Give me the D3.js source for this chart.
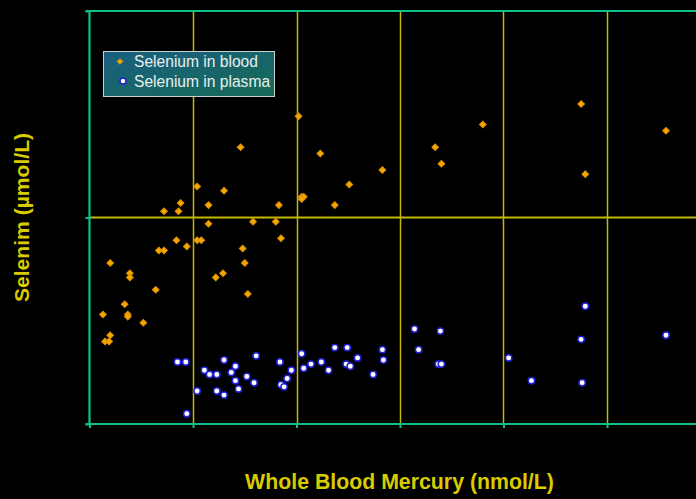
<!DOCTYPE html>
<html><head><meta charset="utf-8">
<script src="https://cdn.jsdelivr.net/npm/d3@7"></script>
<style>html,body{margin:0;padding:0;background:#000;}svg{display:block;}</style>
</head><body>
<svg id="chart" width="696" height="499"></svg>
<script>
// Whole blood mercury (nmol/L) vs selenium (µmol/L)
const bloodX = [1.3,1.5,1.9,2.0,2.0,3.4,3.7,3.7,3.9,3.9,5.2,6.4,6.7,7.2,7.2,8.4,8.6,8.8,9.4,10.4,10.4,10.8,11.5,11.5,12.2,12.9,13.0,14.6,14.8,15.0,15.3,15.8,18.0,18.3,18.5,20.2,20.5,20.7,20.5,22.3,23.7,25.1,28.3,33.4,34.0,38.0,47.5,47.9,55.7];
const bloodY = [0.53,0.40,0.40,0.43,0.78,0.58,0.53,0.52,0.73,0.71,0.49,0.65,0.84,0.84,1.03,0.89,1.03,1.07,0.86,1.15,0.89,0.89,1.06,0.97,0.71,0.73,1.13,1.34,0.85,0.78,0.63,0.98,0.98,1.06,0.90,1.49,1.10,1.10,1.09,1.31,1.06,1.16,1.23,1.34,1.26,1.45,1.55,1.21,1.42];

const plasmaX = [8.5,9.3,9.4,10.4,11.1,11.6,12.3,12.3,13.0,13.0,13.7,14.1,14.1,14.4,15.2,15.9,16.1,18.4,18.5,18.8,19.1,19.5,20.5,20.7,21.4,22.4,23.1,23.7,24.8,24.9,25.2,25.9,27.4,28.3,28.4,31.4,31.8,33.9,33.7,34.0,40.5,42.7,47.9,47.5,47.6,55.7];
const plasmaY = [0.30,0.30,0.05,0.16,0.26,0.24,0.24,0.16,0.31,0.14,0.25,0.28,0.21,0.17,0.23,0.20,0.33,0.30,0.19,0.18,0.22,0.26,0.34,0.27,0.29,0.30,0.26,0.37,0.29,0.37,0.28,0.32,0.24,0.36,0.31,0.46,0.36,0.45,0.29,0.29,0.32,0.21,0.57,0.41,0.20,0.43];

const xTicks = [0,10,20,30,40,50,60];
const yTicks = [0,1,2];
const seriesNames = ["Selenium in blood","Selenium in plasma"];

const svg = d3.select("#chart");
const x = d3.scaleLinear().domain([0,60]).range([89.5, 89.5+103.5*6]);
const y = d3.scaleLinear().domain([0,2]).range([424, 11]);

const green = "#10c08c", grid = "#c4b800", yellow = "#d8cc00";

// gridlines
svg.append("g").selectAll("line").data(xTicks.filter(d=>d>0)).join("line")
  .attr("x1",d=>Math.round(x(d))+0.5).attr("x2",d=>Math.round(x(d))+0.5)
  .attr("y1",y(2)).attr("y2",y(0)).attr("stroke",grid).attr("stroke-width",1.5);
svg.append("g").selectAll("line").data([1]).join("line")
  .attr("x1",x(0)).attr("x2",696).attr("y1",d=>y(d)).attr("y2",d=>y(d))
  .attr("stroke",grid).attr("stroke-width",1.8);

// axes
const xAxis = d3.axisBottom(x).tickValues(xTicks).tickSize(4).tickFormat("");
const gx = svg.append("g").attr("transform",`translate(0,${y(0)})`).call(xAxis);
const yAxis = d3.axisLeft(y).tickValues(yTicks).tickSize(4).tickFormat("");
const gy = svg.append("g").attr("transform",`translate(${x(0)},0)`).call(yAxis);
[gx,gy].forEach(g=>{
  g.select(".domain").remove();
  g.selectAll(".tick line").attr("stroke",green).attr("stroke-width",2);
});
svg.append("line").attr("x1",x(0)-4).attr("x2",696).attr("y1",y(0)).attr("y2",y(0)).attr("stroke",green).attr("stroke-width",2.2);
svg.append("line").attr("x1",x(0)).attr("x2",x(0)).attr("y1",y(2)).attr("y2",y(0)).attr("stroke",green).attr("stroke-width",2.2);
svg.append("line").attr("x1",x(0)-4).attr("x2",696).attr("y1",y(2)).attr("y2",y(2)).attr("stroke",green).attr("stroke-width",2.2);

// points
const blood = bloodX.map((v,i)=>({x:v,y:bloodY[i]}));
const plasma = plasmaX.map((v,i)=>({x:v,y:plasmaY[i]}));
const diamond = d3.symbol().type(d3.symbolSquare).size(22);
svg.append("g").selectAll("path").data(blood).join("path")
  .attr("d",diamond).attr("transform",d=>`translate(${x(d.x)},${y(d.y)}) rotate(45)`)
  .attr("fill","#f5a800").attr("stroke","#e09000").attr("stroke-width",1);
svg.append("g").selectAll("circle").data(plasma).join("circle")
  .attr("cx",d=>x(d.x)).attr("cy",d=>y(d.y)).attr("r",3.2)
  .attr("fill","#ffffff").attr("stroke","#2020d8").attr("stroke-width",1.5);

// legend
const defs = svg.append("defs");
const lg = defs.append("linearGradient").attr("id","lg").attr("x1","0").attr("y1","0").attr("x2","1").attr("y2","1");
lg.append("stop").attr("offset","0").attr("stop-color","#1a5f80");
lg.append("stop").attr("offset","1").attr("stop-color","#156a55");
const leg = svg.append("g");
leg.append("rect").attr("x",103.5).attr("y",51.5).attr("width",171).attr("height",45)
  .attr("fill","url(#lg)").attr("stroke","#c8d0d0").attr("stroke-width",1);
leg.append("path").attr("d",d3.symbol().type(d3.symbolSquare).size(16)).attr("transform","translate(120,61.5) rotate(45)").attr("fill","#f5a800").attr("stroke","#e09000").attr("stroke-width",0.8);
leg.append("circle").attr("cx",123).attr("cy",81).attr("r",3).attr("fill","#fff").attr("stroke","#2020d8").attr("stroke-width",1.5);
leg.selectAll("text").data(seriesNames).join("text")
  .attr("x",134).attr("y",(d,i)=>66.5+i*20).text(d=>d)
  .attr("fill","#e8eeee").attr("font-family","Liberation Sans, Arial, sans-serif").attr("font-size",15.6);

// titles
svg.append("text").attr("x",399.5).attr("y",489).attr("text-anchor","middle")
  .attr("fill",yellow).attr("font-family","Liberation Sans, Arial, sans-serif").attr("font-weight","bold").attr("font-size",21.3)
  .text("Whole Blood Mercury (nmol/L)");
svg.append("text").attr("transform","translate(29,217.5) rotate(-90)").attr("text-anchor","middle")
  .attr("fill",yellow).attr("font-family","Liberation Sans, Arial, sans-serif").attr("font-weight","bold").attr("font-size",21.1)
  .text("Selenim (µmol/L)");
</script>
</body></html>
